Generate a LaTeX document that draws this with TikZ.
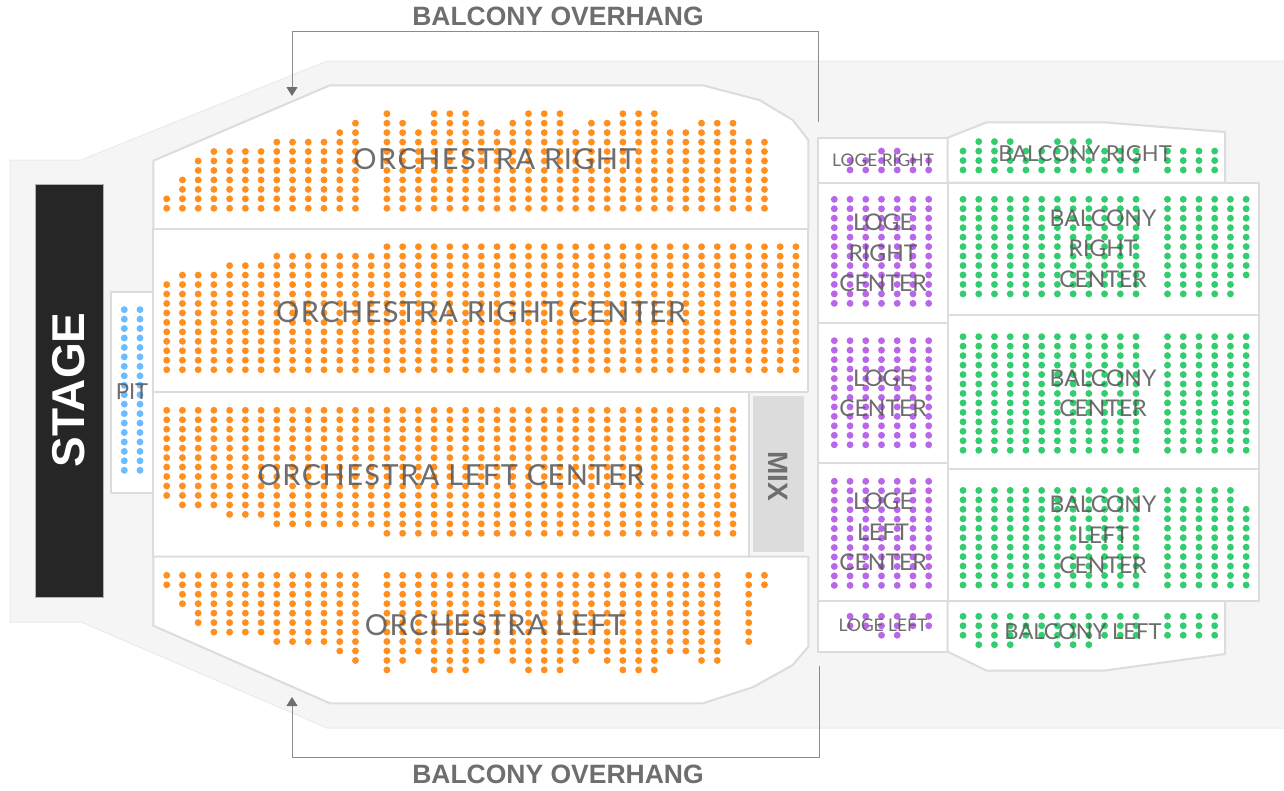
\documentclass[tikz,border=0pt]{standalone}
\usepackage{fontspec}
\setmainfont{Lato}
\newfontfamily\boldfont{Liberation Sans Bold}
\newfontfamily\wideorch[LetterSpace=5]{Lato}
\usetikzlibrary{arrows.meta}
\definecolor{floorbg}{HTML}{F5F5F5}
\definecolor{wallline}{HTML}{DCDCDC}
\definecolor{stagedark}{HTML}{262626}
\definecolor{labelgray}{HTML}{5A5A5A}
\definecolor{headgray}{HTML}{6E6E6E}
\definecolor{orchseat}{HTML}{FF8F1F}
\definecolor{logeseat}{HTML}{B966E8}
\definecolor{balcseat}{HTML}{33CC6F}
\definecolor{pitseat}{HTML}{6EBCFF}
% colour, first column x, first row y, row step, list of column/rows
\newcommand{\seatrows}[5]{%
  \foreach \col/\num in {#5}
    \foreach \row in {1,...,\num}
      \fill[#1] ({#2+15.73*\col},{#3+#4*(\row-1)}) circle (3.45);}
\begin{document}
\begin{tikzpicture}[x=1pt,y=-1pt,
      wall/.style={draw=wallline, line width=2pt, fill=white, line join=round},
      area/.style={text=labelgray, text opacity=.88, align=center, inner sep=0pt},
      big/.style={area, font=\wideorch\fontsize{29}{35}\selectfont},
      mid/.style={area, font=\fontsize{23}{30.5}\selectfont},
      midwide/.style={area, font=\fontsize{22}{26}\selectfont},
      tiny/.style={area, font=\fontsize{17.4}{20}\selectfont},
      head/.style={text=headgray, inner sep=0pt, font=\boldfont\fontsize{26.5}{30}\selectfont},
      overhang/.style={draw=gray!90, line width=.8pt, -{Triangle[length=9pt,width=11pt,color=headgray]}}
      ]
      \useasboundingbox (0,0) rectangle (1284,790);
      % floor
      \draw[draw=black!8, line width=1pt, fill=floorbg] (10,160) -- (81,160) -- (327,61) -- (1290,61) -- (1290,728) -- (327,728) -- (81,622) -- (10,622) -- cycle;
      % stage and pit
      \draw[draw=gray!60, line width=.6pt, fill=stagedark] (35.3,184.3) rectangle (103.5,597);
      \draw[wall] (110.5,291.7) rectangle (153.3,493.3);
      % orchestra
      \draw[wall] (153.3,160.7) -- (330,85.3) -- (702.7,85.3) -- (759.3,100) -- (792.7,120) -- (808.3,140) -- (808.3,229) -- (153.3,229) -- cycle;
      \draw[wall] (153.3,229) rectangle (808.3,392.4);
      \draw[wall] (153.3,392.4) rectangle (748.7,556.6);
      \draw[wall] (153.3,556.6) -- (808.3,556.6) -- (808.3,646.7) -- (792.7,665) -- (752.7,687.3) -- (702.7,703.3) -- (330,703.3) -- (153.3,625.7) -- cycle;
      \fill[wallline] (752.7,396) rectangle (804.3,552.3);
      % loge
      \draw[wall] (818.3,137.7) rectangle (947.7,182.7);
      \draw[wall] (818.3,182.7) rectangle (947.7,322.7);
      \draw[wall] (818.3,322.7) rectangle (947.7,462.7);
      \draw[wall] (818.3,462.7) rectangle (947.7,601);
      \draw[wall] (818.3,601) rectangle (947.7,651.7);
      % balcony
      \draw[wall] (947.7,137.7) -- (986.7,122.3) -- (1103.3,122.3) -- (1225,132) -- (1225,182.7) -- (947.7,182.7) -- cycle;
      \draw[wall] (947.7,182.7) rectangle (1259,315);
      \draw[wall] (947.7,315) rectangle (1259,469);
      \draw[wall] (947.7,469) rectangle (1259,601);
      \draw[wall] (947.7,601) -- (1225,601) -- (1225,654) -- (1103.3,670.7) -- (986.7,670.7) -- (947.7,651.7) -- cycle;
      % seats
      \seatrows{pitseat}{124.3}{470.3}{-9.45}{0/18}
      \seatrows{pitseat}{140}{470.3}{-9.45}{0/18}
      \seatrows{orchseat}{166.7}{208.3}{-9.46}{0/2,1/4,2/6,3/7,4/7,5/7,6/7,7/8,8/8,9/8,10/8,11/9,12/10,14/11,15/10,16/9,17/11,18/11,19/11,20/10,21/9,22/10,23/11,24/11,25/11,26/9,27/10,28/10,29/11,30/11,31/11,32/9,33/9,34/10,35/10,36/10,37/8,38/8}
      \seatrows{orchseat}{166.7}{369.7}{-9.46}{0/10,1/11,2/11,3/11,4/12,5/12,6/12,7/13,8/13,9/13,10/13,11/13,12/13,13/13,14/14,15/14,16/14,17/14,18/14,19/14,20/14,21/14,22/14,23/14,24/14,25/14,26/14,27/14,28/14,29/14,30/14,31/14,32/14,33/14,34/14,35/14,36/14,37/14,38/14,39/14,40/14}
      \seatrows{orchseat}{166.7}{410.3}{9.46}{0/10,1/11,2/11,3/11,4/12,5/12,6/12,7/13,8/13,9/13,10/13,11/13,12/13,13/13,14/14,15/14,16/14,17/14,18/14,19/14,20/14,21/14,22/14,23/14,24/14,25/14,26/14,27/14,28/14,29/14,30/14,31/14,32/14,33/14,34/14,35/14,36/14}
      \seatrows{orchseat}{166.7}{575.3}{9.46}{0/2,1/4,2/6,3/7,4/7,5/7,6/7,7/8,8/8,9/8,10/8,11/9,12/10,14/11,15/10,16/9,17/11,18/11,19/11,20/10,21/9,22/10,23/11,24/11,25/11,26/10,27/9,28/10,29/11,30/11,31/11,32/9,33/9,34/10,35/10,37/8,38/2}
      \seatrows{logeseat}{834.3}{170}{-9.46}{1/2,2/2,3/3,4/3,5/2,6/2}
      \seatrows{logeseat}{834.3}{199.3}{9.46}{0/12,1/12,2/12,3/12,4/12,5/12,6/12}
      \seatrows{logeseat}{834.3}{340.7}{9.46}{0/12,1/12,2/12,3/12,4/12,5/12,6/12}
      \seatrows{logeseat}{834.3}{481.3}{9.46}{0/12,1/12,2/12,3/12,4/12,5/12,6/12}
      \seatrows{logeseat}{834.3}{616.3}{9.46}{1/2,2/2,3/3,4/3,5/2,6/2}
      \seatrows{balcseat}{963}{170}{-9.46}{0/3,1/4,2/4,3/4,4/3,5/3,6/4,7/4,8/4,9/3,10/3,11/3,13/3,14/3,15/3,16/3}
      \seatrows{balcseat}{963}{199.3}{9.46}{0/11,1/11,2/11,3/11,4/11,5/11,6/11,7/11,8/11,9/11,10/11,11/11,13/11,14/11,15/11,16/11,17/11,18/9}
      \seatrows{balcseat}{963}{336.7}{9.46}{0/13,1/13,2/13,3/13,4/13,5/13,6/13,7/13,8/13,9/13,10/13,11/13,13/13,14/13,15/13,16/13,17/13,18/13}
      \seatrows{balcseat}{963}{585}{-9.46}{0/11,1/11,2/11,3/11,4/11,5/11,6/11,7/11,8/11,9/11,10/11,11/11,13/11,14/11,15/11,16/11,17/11,18/9}
      \seatrows{balcseat}{963}{616.3}{9.46}{0/3,1/4,2/4,3/4,4/3,5/3,6/4,7/4,8/4,9/3,10/3,11/3,13/3,14/3,15/3,16/3}
      % labels
      \node[rotate=90, text=white, inner sep=0pt, font=\boldfont\fontsize{46}{50}\selectfont] (STAGE) at (69,390) {STAGE};
      \node[area, font=\fontsize{22}{26}\selectfont] (PIT) at (132,391.5) {PIT};
      \node[rotate=-90, text=headgray, inner sep=0pt, font=\boldfont\fontsize{28}{32}\selectfont] (MIX) at (778,476) {MIX};
      \node[big] (ORCHR) at (495,159) {ORCHESTRA RIGHT};
      \node[big] (ORCHRC) at (481,312) {ORCHESTRA RIGHT CENTER};
      \node[big] (ORCHLC) at (451,475) {ORCHESTRA LEFT CENTER};
      \node[big] (ORCHL) at (495,625) {ORCHESTRA LEFT};
      \node[tiny] (LOGER) at (883,160) {LOGE RIGHT};
      \node[mid] (LOGERC) at (883,253) {LOGE\\RIGHT\\CENTER};
      \node[mid] (LOGEC) at (883,393.5) {LOGE\\CENTER};
      \node[mid] (LOGELC) at (883,532) {LOGE\\LEFT\\CENTER};
      \node[tiny] (LOGEL) at (883,625) {LOGE LEFT};
      \node[midwide] (BALCR) at (1085,154) {BALCONY RIGHT};
      \node[mid] (BALCRC) at (1103,248.5) {BALCONY\\RIGHT\\CENTER};
      \node[mid] (BALCC) at (1103,393.5) {BALCONY\\CENTER};
      \node[mid] (BALCLC) at (1103,535) {BALCONY\\LEFT\\CENTER};
      \node[midwide] (BALCL) at (1083,632) {BALCONY LEFT};
      \node[head] (OVERT) at (558,16) {BALCONY OVERHANG};
      \node[head] (OVERB) at (558,774) {BALCONY OVERHANG};
      % overhang pointers
      \coordinate (TOPEND) at (818.5,122);
      \coordinate (TOPTIP) at (292,96);
      \coordinate (BOTEND) at (819.5,666);
      \coordinate (BOTTIP) at (292,697);
      \draw[overhang] (TOPEND) -- (818.5,31) -- (292,31) -- (TOPTIP);
      \draw[overhang] (BOTEND) -- (819.5,757) -- (292,757) -- (BOTTIP);
    \end{tikzpicture}
\end{document}
